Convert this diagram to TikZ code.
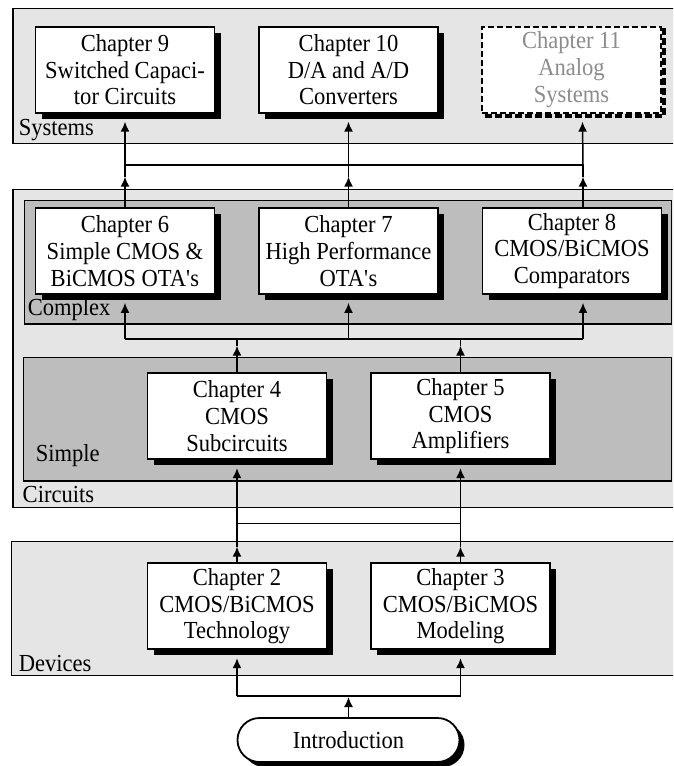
\documentclass[tikz,border=0pt]{standalone}
\usepackage{fontspec}
\setmainfont{Liberation Serif}[FakeStretch=0.92]
\usetikzlibrary{arrows.meta,shadows,shapes.misc}
\begin{document}
\begin{tikzpicture}[x=1pt,y=-1pt,line width=1.5pt,font=\fontsize{24.5}{26.7}\selectfont]
       \tikzset{>={Latex[length=10pt,width=9pt]}}
       \tikzset{chapbox/.style={draw,fill=white,line width=1.8pt,align=center,
           minimum width=179pt,minimum height=86pt,inner sep=0pt,
           drop shadow={shadow xshift=6pt,shadow yshift=-6pt,opacity=1,fill=black}},
         laterbox/.style={draw,dash pattern=on 6pt off 3pt,fill=white,line width=1.8pt,align=center,
           text=black!45,minimum width=179pt,minimum height=86pt,inner sep=0pt,
           general shadow={shadow xshift=3pt,shadow yshift=-3pt,draw=black,fill=none,
             line width=4.5pt,dash pattern=on 7pt off 3pt}},
         introbox/.style={draw,fill=white,line width=1.8pt,rounded rectangle,
           minimum width=222pt,minimum height=44pt,inner sep=0pt,
           drop shadow={shadow xshift=5pt,shadow yshift=-5pt,opacity=1,fill=black}},
         panellabel/.style={anchor=base west,inner sep=0pt},
         outerpanel/.style={draw,fill=black!10,line width=1.3pt},
         innerpanel/.style={draw,fill=black!26,line width=1.3pt}}
       \clip (0,0) rectangle (673,766);
       % panels
       \path[outerpanel] (12.9,8.3) rectangle (690,143.3);
       \path[outerpanel] (12.9,189.5) rectangle (690,507.3);
       \path[innerpanel] (24.5,200.7) rectangle (671.5,324);
       \path[innerpanel] (23.6,357.3) rectangle (671.5,481);
       \path[outerpanel] (11.6,541.7) rectangle (690,675.7);
       \node[panellabel] (lsys) at (18,135) {Systems};
       \node[panellabel] (lcpx) at (27,315) {Complex};
       \node[panellabel] (lsim) at (35,461.7) {Simple};
       \node[panellabel] (lcir) at (22,502) {Circuits};
       \node[panellabel] (ldev) at (18,671.7) {Devices};
       % chapters
       \node[chapbox] (ch9) at (125,69.8) {Chapter 9\\Switched Capaci-\\tor Circuits};
       \node[chapbox] (ch10) at (348.5,69.8) {Chapter 10\\D/A and A/D\\Converters};
       \node[laterbox] (ch11) at (571.5,69.8) {Chapter 11\\Analog\\Systems};
       \node[chapbox] (ch6) at (125,251) {Chapter 6\\Simple CMOS \&\\BiCMOS OTA\textquotesingle s};
       \node[chapbox] (ch7) at (348.5,251) {Chapter 7\\High Performance\\OTA\textquotesingle s};
       \node[chapbox] (ch8) at (572,251) {Chapter 8\\CMOS/BiCMOS\\Comparators};
       \node[chapbox] (ch4) at (237,416.3) {Chapter 4\\CMOS\\Subcircuits};
       \node[chapbox] (ch5) at (460.5,416.3) {Chapter 5\\CMOS\\Amplifiers};
       \node[chapbox] (ch2) at (237,606.3) {Chapter 2\\CMOS/BiCMOS\\Technology};
       \node[chapbox] (ch3) at (460.5,606.3) {Chapter 3\\CMOS/BiCMOS\\Modeling};
       \node[introbox] (intro) at (348.5,740) {Introduction};
       % bus points
       \coordinate (n9) at (125,165);
       \coordinate (n10) at (348.5,165);
       \coordinate (n11) at (583,165);
       \coordinate (m6) at (125,176.7);
       \coordinate (m7) at (348.5,176.7);
       \coordinate (m8) at (583,176.7);
       \coordinate (w6) at (125,339);
       \coordinate (w7) at (348.5,339);
       \coordinate (w8) at (583,339);
       \coordinate (t4) at (237,345.7);
       \coordinate (t5) at (460.5,345.7);
       \coordinate (u2) at (237,523.3);
       \coordinate (u3) at (460.5,523.3);
       \coordinate (t2) at (237,546.7);
       \coordinate (t3) at (460.5,546.7);
       \coordinate (q2) at (237,696);
       \coordinate (q3) at (460.5,696);
       \coordinate (qi) at (348.5,697);
       % connectors
       \draw[->] (intro.north) -- (qi);
       \draw (q2) -- (q3);
       \draw[->] (q2) -- ([yshift=-8pt]ch2.south);
       \draw[->] (q3) -- ([yshift=-8pt]ch3.south);
       \draw[->] (ch2.north) -- (t2);
       \draw[->] (ch3.north) -- (t3);
       \draw (t2) -- (u2) -- (u3) -- (t3);
       \draw[->] (u2) -- ([yshift=-8pt]ch4.south);
       \draw[->] (u3) -- ([yshift=-8pt]ch5.south);
       \draw[->] (ch4.north) -- (t4);
       \draw[->] (ch5.north) -- (t5);
       \draw (t4) -- (w6 -| t4);
       \draw (t5) -- (w6 -| t5);
       \draw (w6) -- (w8);
       \draw[->] (w6) -- ([yshift=-8pt]ch6.south);
       \draw[->] (w7) -- ([yshift=-8pt]ch7.south);
       \draw[->] (w8) -- ([xshift=11pt,yshift=-8pt]ch8.south);
       \draw[->] (ch6.north) -- (m6);
       \draw[->] (ch7.north) -- (m7);
       \draw[->] ([xshift=11pt]ch8.north) -- (m8);
       \draw (m6) -- (n9);
       \draw (m7) -- (n10);
       \draw (m8) -- (n11);
       \draw (n9) -- (n11);
       \draw[->] (n9) -- ([yshift=-8pt]ch9.south);
       \draw[->] (n10) -- ([yshift=-8pt]ch10.south);
       \draw[->] (n11) -- ([xshift=11pt,yshift=-8pt]ch11.south);
   \end{tikzpicture}
\end{document}
